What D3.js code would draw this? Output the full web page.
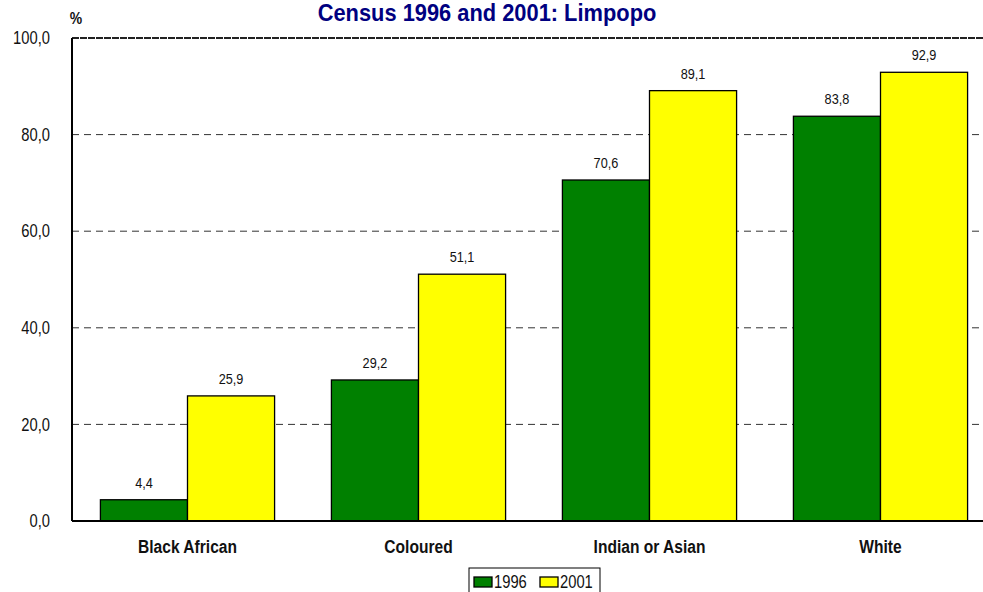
<!DOCTYPE html>
<html><head><meta charset="utf-8">
<script src="https://cdn.jsdelivr.net/npm/d3@7"></script>
<style>body{margin:0;background:#fff;}svg{display:block;}</style>
</head><body><svg id="c" width="983" height="592"></svg>
<script>
const categories = ["Black African", "Coloured", "Indian or Asian", "White"];
const seriesNames = ["1996", "2001"];
const values1996 = [4.4, 29.2, 70.6, 83.8];
const values2001 = [25.9, 51.1, 89.1, 92.9];
const yTicks = [0, 20, 40, 60, 80, 100];
const title = "Census 1996 and 2001: Limpopo";
const colors = ["#008000", "#FFFF00"];

const font = "'Liberation Sans',Arial,sans-serif";
const SX = 0.82; // emulate a narrow face
const svg = d3.select("#c");
const L = 72, R = 996, T = 38, B = 521;
const x = d3.scaleBand().domain(categories).range([L, R]).paddingInner(0.246).paddingOuter(0.123);
const xs = d3.scaleBand().domain(seriesNames).range([0, x.bandwidth()]);
const y = d3.scaleLinear().domain([0, 100]).range([B, T]);
const fmt = v => d3.format(".1f")(v).replace(".", ",");

function txt(sel, px, py, s, size, weight, anchor, fill, sx) {
  return sel.append("text").attr("transform", `translate(${px},${py}) scale(${sx || SX},1)`)
    .attr("text-anchor", anchor || "middle").attr("font-family", font).attr("font-size", size)
    .attr("font-weight", weight || "normal").attr("fill", fill || "#111").text(s);
}
function narrow(sel) {
  sel.each(function () {
    const t = d3.select(this);
    const tx = +t.attr("x") || 0, ty = +t.attr("y") || 0;
    t.attr("x", 0).attr("y", 0).attr("transform", `translate(${tx},${ty}) scale(${SX},1)`);
  });
}

// gridlines
svg.append("g").selectAll("line").data(yTicks.filter(t => t > 0 && t < 100)).join("line")
  .attr("x1", L).attr("x2", R).attr("y1", d => y(d)).attr("y2", d => y(d))
  .attr("stroke", "#333").attr("stroke-width", 1).attr("stroke-dasharray", "7,5");
svg.append("line").attr("x1", L).attr("x2", R).attr("y1", y(100)).attr("y2", y(100))
  .attr("stroke", "#222").attr("stroke-width", 2).attr("stroke-dasharray", "7,1");

// bars
const data = categories.map((c, i) => ({c, vals: [values1996[i], values2001[i]]}));
const g = svg.append("g").selectAll("g").data(data).join("g")
  .attr("transform", d => `translate(${x(d.c)},0)`);
g.selectAll("rect").data(d => d.vals.map((v, j) => ({s: seriesNames[j], v, j}))).join("rect")
  .attr("x", d => xs(d.s)).attr("width", xs.bandwidth())
  .attr("y", d => y(d.v)).attr("height", d => y(0) - y(d.v))
  .attr("fill", d => colors[d.j]).attr("stroke", "#000").attr("stroke-width", 1.3);
g.each(function (d) {
  const gg = d3.select(this);
  d.vals.forEach((v, j) => txt(gg, xs(seriesNames[j]) + xs.bandwidth() / 2, y(v) - 12, fmt(v), 15.5));
});

// y axis
const ya = svg.append("g").attr("transform", `translate(${L},0)`)
  .call(d3.axisLeft(y).tickValues(yTicks).tickFormat(fmt).tickSize(0).tickPadding(22));
ya.select(".domain").remove();
ya.selectAll("text").attr("font-family", font).attr("font-size", 18).attr("fill", "#111").call(narrow);
svg.append("line").attr("x1", L).attr("x2", L).attr("y1", T).attr("y2", B).attr("stroke", "#000").attr("stroke-width", 2);

// x axis
const xa = svg.append("g").attr("transform", `translate(0,${B})`)
  .call(d3.axisBottom(x).tickSize(0).tickPadding(32));
xa.select(".domain").remove();
xa.selectAll("text").attr("dy", 0).attr("font-family", font).attr("font-size", 19).attr("font-weight", "bold").attr("fill", "#111").call(narrow);
svg.append("line").attr("x1", L).attr("x2", R).attr("y1", B).attr("y2", B).attr("stroke", "#000").attr("stroke-width", 2);

// title and unit
txt(svg, 487, 21, title, 23, "bold", "middle", "#000080", 0.95);
txt(svg, 76, 24, "%", 17, "bold");

// legend
const lg = svg.append("g").attr("transform", "translate(469,568)");
lg.append("rect").attr("x", 0).attr("y", 0).attr("width", 131).attr("height", 30).attr("fill", "#fff").attr("stroke", "#000").attr("stroke-width", 1);
const li = lg.selectAll("g").data(seriesNames).join("g").attr("transform", (d, i) => `translate(${5 + i * 66},9)`);
li.append("rect").attr("width", 18).attr("height", 10).attr("fill", (d, i) => colors[i]).attr("stroke", "#000").attr("stroke-width", 1.3);
li.each(function (d) { txt(d3.select(this), 20, 11, d, 18, "normal", "start"); });
</script></body></html>
